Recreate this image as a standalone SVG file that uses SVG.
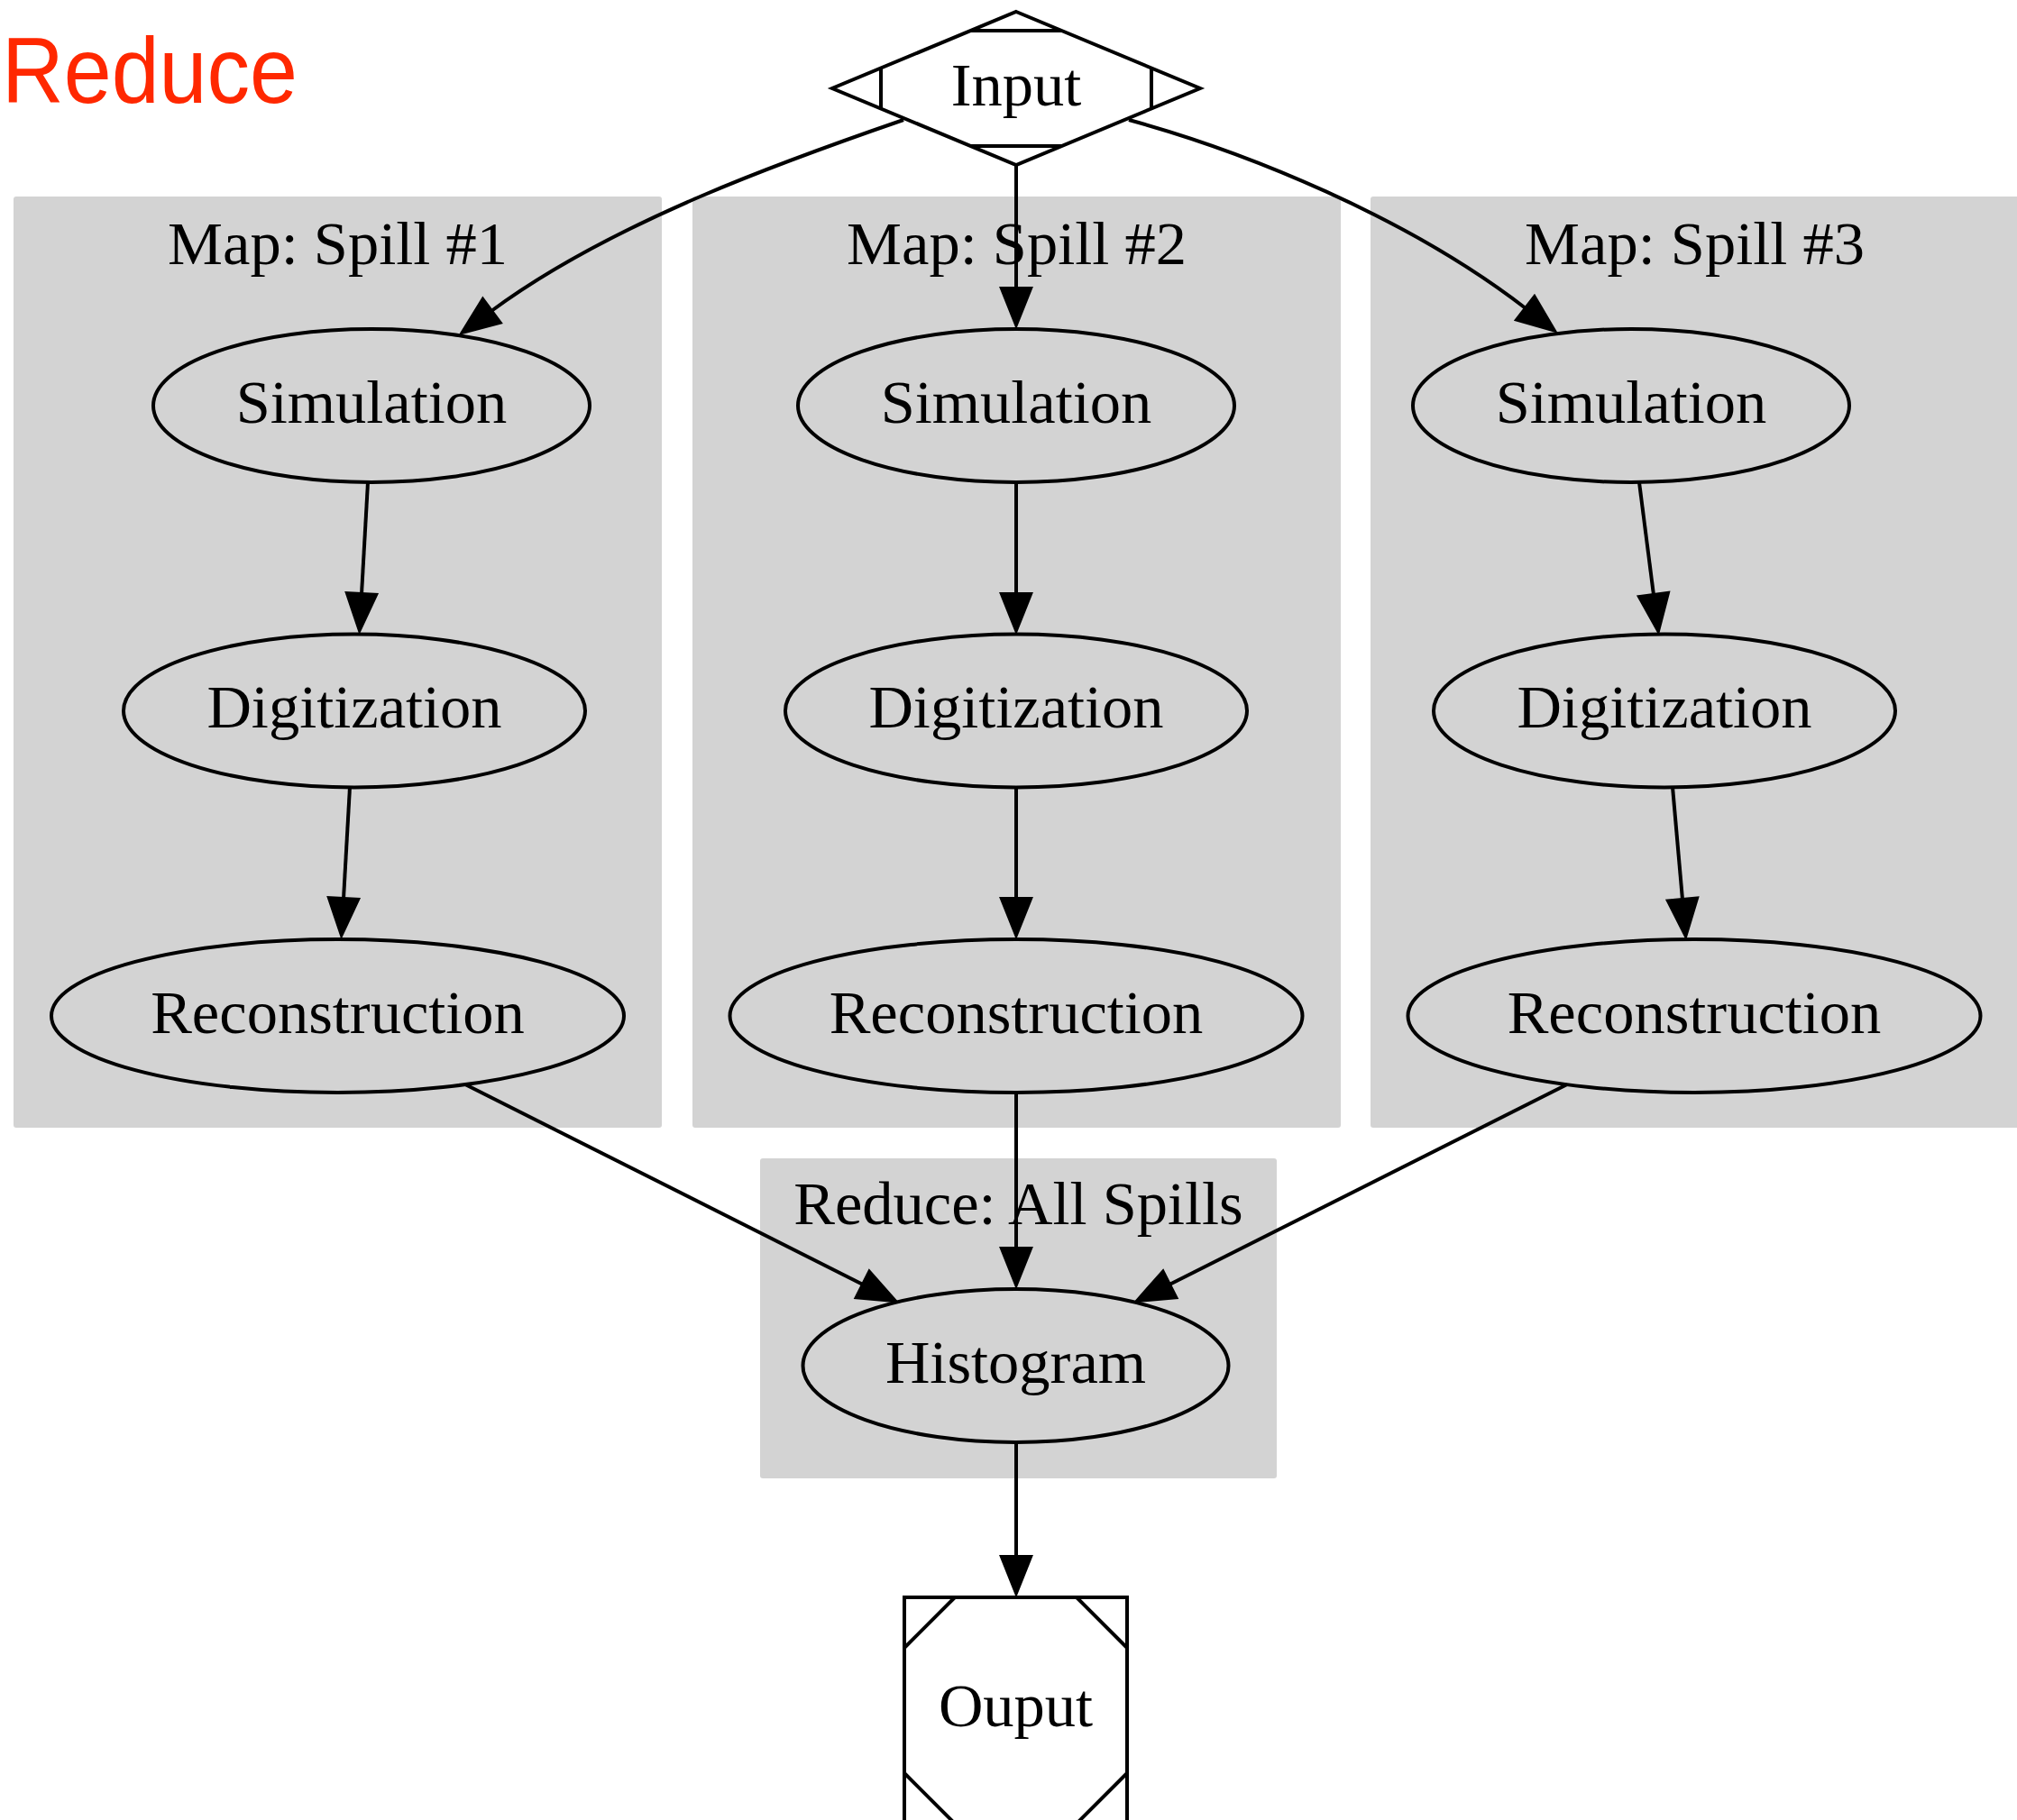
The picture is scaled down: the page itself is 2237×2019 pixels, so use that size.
<svg xmlns="http://www.w3.org/2000/svg" width="2237" height="2019" viewBox="0 0 2237 2019">
  <style>
    .cluster { fill: #d3d3d3; stroke: none; }
    .clabel { font-family: "Liberation Serif", "Times New Roman", serif; font-size: 68.5px; fill: #000; text-anchor: middle; }
    .node { fill: none; stroke: #000; stroke-width: 4; }
    .node-w { fill: #fff; stroke: #000; stroke-width: 4; }
    .label { font-family: "Liberation Serif", "Times New Roman", serif; font-size: 68.5px; fill: #000; text-anchor: middle; }
    .edge { fill: none; stroke: #000; stroke-width: 4; marker-end: url(#arrow); }
    .title { font-family: "Liberation Sans", Arial, sans-serif; font-size: 104px; fill: #ff2800; }
  </style>
  <defs>
    <marker id="arrow" markerUnits="userSpaceOnUse" viewBox="-5 -25 60 50" markerWidth="60" markerHeight="50" refX="0" refY="0" orient="auto" overflow="visible">
      <path d="M0,-16 L40,0 L0,16 Z" fill="#000" stroke="#000" stroke-width="4"/>
    </marker>
  </defs>

  <rect width="2237" height="2019" fill="#fff"/>

  <text class="title" x="2" y="114" textLength="328" lengthAdjust="spacingAndGlyphs">Reduce</text>

  <!-- clusters -->
  <g id="cluster_spill1">
    <rect class="cluster" x="15" y="218" width="719" height="1033" rx="3"/>
    <text class="clabel" x="374.5" y="293">Map: Spill #1</text>
  </g>
  <g id="cluster_spill2">
    <rect class="cluster" x="768" y="218" width="719" height="1033" rx="3"/>
    <text class="clabel" x="1127.5" y="293">Map: Spill #2</text>
  </g>
  <g id="cluster_spill3">
    <rect class="cluster" x="1520" y="218" width="719" height="1033" rx="3"/>
    <text class="clabel" x="1879.5" y="293">Map: Spill #3</text>
  </g>
  <g id="cluster_reduce">
    <rect class="cluster" x="843" y="1285" width="573" height="355" rx="3"/>
    <text class="clabel" x="1129.5" y="1358">Reduce: All Spills</text>
  </g>

  <!-- nodes -->
  <g id="input">
    <polygon class="node-w" points="1127,13 1331,98 1127,183 923,98"/>
    <path class="node" d="M1077,34 L1177,34 M1077,162 L1177,162 M977,76 L977,120 M1277,76 L1277,120"/>
    <text class="label" x="1127" y="117">Input</text>
  </g>

  <g id="sim1">
    <ellipse class="node" cx="412" cy="450" rx="242" ry="85"/>
    <text class="label" x="412" y="469">Simulation</text>
  </g>
  <g id="dig1">
    <ellipse class="node" cx="393" cy="788.5" rx="256" ry="85"/>
    <text class="label" x="393" y="807">Digitization</text>
  </g>
  <g id="rec1">
    <ellipse class="node" cx="374.5" cy="1127" rx="317.5" ry="85"/>
    <text class="label" x="374.5" y="1146">Reconstruction</text>
  </g>

  <g id="sim2">
    <ellipse class="node" cx="1127" cy="450" rx="242" ry="85"/>
    <text class="label" x="1127" y="469">Simulation</text>
  </g>
  <g id="dig2">
    <ellipse class="node" cx="1127" cy="788.5" rx="256" ry="85"/>
    <text class="label" x="1127" y="807">Digitization</text>
  </g>
  <g id="rec2">
    <ellipse class="node" cx="1127" cy="1127" rx="317.5" ry="85"/>
    <text class="label" x="1127" y="1146">Reconstruction</text>
  </g>

  <g id="sim3">
    <ellipse class="node" cx="1809" cy="450" rx="242" ry="85"/>
    <text class="label" x="1809" y="469">Simulation</text>
  </g>
  <g id="dig3">
    <ellipse class="node" cx="1846" cy="788.5" rx="256" ry="85"/>
    <text class="label" x="1846" y="807">Digitization</text>
  </g>
  <g id="rec3">
    <ellipse class="node" cx="1879" cy="1127" rx="317.5" ry="85"/>
    <text class="label" x="1879" y="1146">Reconstruction</text>
  </g>

  <g id="histogram">
    <ellipse class="node" cx="1126.5" cy="1515" rx="236" ry="85"/>
    <text class="label" x="1126.5" y="1534">Histogram</text>
  </g>

  <g id="output">
    <rect class="node-w" x="1003" y="1772" width="247" height="251"/>
    <path class="node" d="M1003,1828 L1059,1772 M1194,1772 L1250,1828 M1003,1967 L1059,2023 M1250,1967 L1194,2023"/>
    <text class="label" x="1126.5" y="1915">Ouput</text>
  </g>

  <!-- connectors -->
  <g id="edges">
    <path class="edge" d="M1002,133 C880,175 680,245 545,345"/>
    <path class="edge" d="M1127,183 L1127,320"/>
    <path class="edge" d="M1252,133 C1380,168 1560,240 1692,342"/>

    <path class="edge" d="M408,535 L401,659"/>
    <path class="edge" d="M388,873 L381,997"/>
    <path class="edge" d="M1127,535 L1127,659"/>
    <path class="edge" d="M1127,873 L1127,997"/>
    <path class="edge" d="M1818,535 L1834,660"/>
    <path class="edge" d="M1855,873 L1866,998"/>

    <path class="edge" d="M516,1203 L957,1425"/>
    <path class="edge" d="M1127,1212 L1127,1385"/>
    <path class="edge" d="M1738,1203 L1297,1425"/>

    <path class="edge" d="M1127,1600 L1127,1727"/>
  </g>
</svg>
